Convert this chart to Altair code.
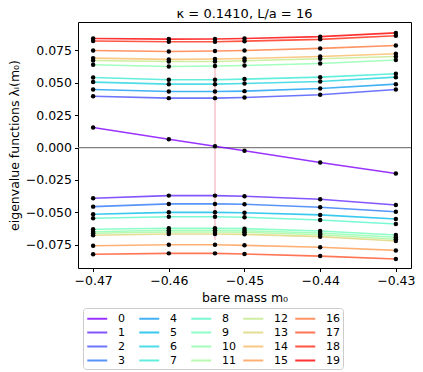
import altair as alt
import pandas as pd
import numpy as np

# bare masses m0 at which eigenvalues were computed
masses = [-0.47, -0.46, -0.4539, -0.45, -0.44, -0.43]
m_crit = -0.4539
pink_lo, pink_hi = -0.0714, 0.0624
title_text = "κ = 0.1410, L/a = 16"

# eigenvalue index 0 (crosses zero)
lam_0 = [0.0155, 0.0065, 0.0010, -0.0025, -0.0115, -0.0200]
# positive branch
lam_p2 = [0.0397, 0.0382, 0.0382, 0.0387, 0.0408, 0.0449]
lam_p4 = [0.0449, 0.0433, 0.0433, 0.0436, 0.0456, 0.0490]
lam_p6 = [0.0506, 0.0490, 0.0490, 0.0495, 0.0510, 0.0544]
lam_p7 = [0.0541, 0.0524, 0.0524, 0.0529, 0.0544, 0.0570]
lam_p10 = [0.0640, 0.0626, 0.0630, 0.0634, 0.0650, 0.0676]
lam_p12 = [0.0673, 0.0665, 0.0665, 0.0671, 0.0686, 0.0704]
lam_p14 = [0.0691, 0.0681, 0.0684, 0.0688, 0.0704, 0.0725]
lam_p16 = [0.0750, 0.0742, 0.0746, 0.0750, 0.0766, 0.0789]
lam_p18 = [0.0823, 0.0817, 0.0818, 0.0822, 0.0836, 0.0864]
lam_p19 = [0.0842, 0.0838, 0.0839, 0.0843, 0.0857, 0.0886]
# negative branch
lam_n1 = [-0.0391, -0.0371, -0.0371, -0.0376, -0.0399, -0.0443]
lam_n3 = [-0.0456, -0.0435, -0.0435, -0.0438, -0.0461, -0.0495]
lam_n5 = [-0.0515, -0.0500, -0.0500, -0.0503, -0.0520, -0.0551]
lam_n8 = [-0.0546, -0.0534, -0.0534, -0.0538, -0.0559, -0.0590]
lam_n9 = [-0.0631, -0.0623, -0.0623, -0.0626, -0.0644, -0.0675]
lam_n10 = [-0.0650, -0.0639, -0.0639, -0.0642, -0.0660, -0.0693]
lam_n11 = [-0.0662, -0.0652, -0.0652, -0.0654, -0.0673, -0.0708]
lam_n13 = [-0.0677, -0.0667, -0.0667, -0.0670, -0.0688, -0.0722]
lam_n15 = [-0.0758, -0.0750, -0.0750, -0.0755, -0.0770, -0.0794]
lam_n17 = [-0.0824, -0.0817, -0.0817, -0.0822, -0.0838, -0.0861]

lines = [
    ("0", "z0", lam_0),
    ("2", "p2", lam_p2), ("4", "p4", lam_p4), ("6", "p6", lam_p6), ("7", "p7", lam_p7),
    ("10", "p10", lam_p10), ("12", "p12", lam_p12), ("14", "p14", lam_p14),
    ("16", "p16", lam_p16), ("18", "p18", lam_p18), ("19", "p19", lam_p19),
    ("1", "n1", lam_n1), ("3", "n3", lam_n3), ("5", "n5", lam_n5), ("8", "n8", lam_n8),
    ("9", "n9", lam_n9), ("10", "n10", lam_n10), ("11", "n11", lam_n11),
    ("13", "n13", lam_n13), ("15", "n15", lam_n15), ("17", "n17", lam_n17),
]

rows = []
for idx, lid, vals in lines:
    for m, v in zip(masses, vals):
        rows.append({"idx": idx, "lid": lid, "m0": m, "lam": v})
df = pd.DataFrame(rows)


def rainbow(t):
    r = min(max(abs(2 * t - 0.5), 0), 1)
    g = min(max(np.sin(np.pi * t), 0), 1)
    b = min(max(np.cos(np.pi * t / 2), 0), 1)
    return "#%02x%02x%02x" % (int(round(r * 255)), int(round(g * 255)), int(round(b * 255)))


dom = [str(i) for i in range(20)]
rng = [rainbow(i / 19) for i in range(20)]

xs = alt.Scale(domain=[-0.472, -0.428], nice=False, zero=False)
ys = alt.Scale(domain=[-0.093, 0.097], nice=False, zero=False)

xaxis = alt.Axis(values=[-0.47, -0.46, -0.45, -0.44, -0.43], format=".2f",
                 title="bare mass m₀", titlePadding=4)
yaxis = alt.Axis(values=[-0.075, -0.05, -0.025, 0, 0.025, 0.05, 0.075], format=".3f",
                 title="eigenvalue functions λᵢ(m₀)", titlePadding=4)

zero = alt.Chart(pd.DataFrame({"y": [0.0]})).mark_rule(color="#808080", strokeWidth=1.2).encode(
    y=alt.Y("y:Q", scale=ys, axis=yaxis))

pink = alt.Chart(pd.DataFrame({"x": [m_crit], "y": [pink_lo], "y2": [pink_hi]})).mark_rule(
    color="#f7b3c0", strokeWidth=1.2).encode(
    x=alt.X("x:Q", scale=xs, axis=xaxis), y=alt.Y("y:Q", scale=ys), y2="y2:Q")

line = alt.Chart(df).mark_line(strokeWidth=1.6, opacity=0.8).encode(
    x=alt.X("m0:Q", scale=xs, axis=xaxis),
    y=alt.Y("lam:Q", scale=ys, axis=yaxis),
    color=alt.Color("idx:N", scale=alt.Scale(domain=dom, range=rng),
                    legend=alt.Legend(title=None, orient="none", legendX=5, legendY=286,
                                      columns=5, symbolType="M-1,0H2.2", symbolSize=156,
                                      symbolStrokeWidth=2, symbolOpacity=0.8,
                                      labelFontSize=11, labelFont="DejaVu Sans",
                                      labelColor="black",
                                      columnPadding=3, rowPadding=1, padding=3,
                                      labelOffset=17, gridAlign="all",
                                      strokeColor="#cccccc", fillColor="white",
                                      cornerRadius=3)),
    detail="lid:N",
    order="m0:Q",
)

pts = alt.Chart(df).mark_circle(color="black", size=20, opacity=1).encode(
    x=alt.X("m0:Q", scale=xs), y=alt.Y("lam:Q", scale=ys))

title = alt.Chart(pd.DataFrame({"t": [title_text]})).mark_text(
    fontSize=13, font="DejaVu Sans", color="black", align="center", baseline="middle").encode(
    text="t:N", x=alt.value(166.5), y=alt.value(-8))

chart = alt.layer(zero, pink, line, pts, title).properties(
    width=333, height=246,
    autosize=alt.AutoSizeParams(type="none"),
    padding={"left": 70, "top": 14, "right": 4, "bottom": 104},
).configure_view(stroke="black", strokeWidth=1).configure_axis(
    grid=False, domainColor="black", tickColor="black", tickSize=3.5, labelPadding=3,
    labelColor="black", labelFont="DejaVu Sans", labelFontSize=12.5,
    titleFont="DejaVu Sans", titleFontSize=12.5, titleFontWeight="normal", titleColor="black",
    domain=False,
)

chart.save("out.html", embed_options={"renderer": "svg", "actions": False})
